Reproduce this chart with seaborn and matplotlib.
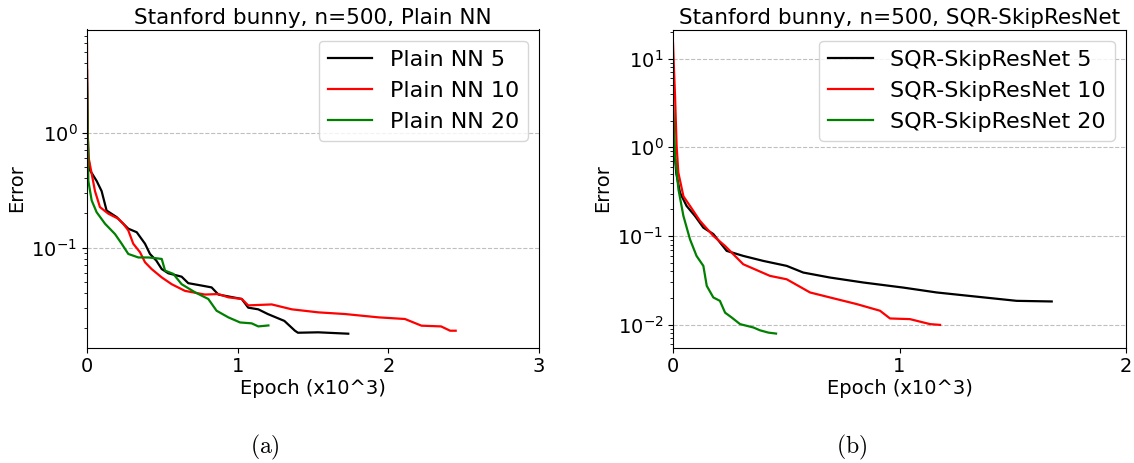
import matplotlib
matplotlib.use("Agg")
import matplotlib.pyplot as plt
import seaborn as sns

# ---- Plain NN runs (epoch in thousands, error) ----
plain5_epoch = [0.0, 0.005, 0.01, 0.02, 0.064, 0.097, 0.13, 0.197, 0.219, 0.274, 0.33, 0.385,
                0.418, 0.46, 0.496, 0.54, 0.628, 0.672, 0.761, 0.827, 0.872, 1.027, 1.07,
                1.137, 1.2, 1.31, 1.38, 1.40, 1.535, 1.734]
plain5_error = [3.5, 1.0, 0.6, 0.47, 0.38, 0.31, 0.21, 0.184, 0.172, 0.146, 0.136, 0.108,
                0.088, 0.077, 0.065, 0.0597, 0.0558, 0.049, 0.0467, 0.045, 0.039, 0.0357, 0.030,
                0.029, 0.0264, 0.023, 0.0189, 0.01815, 0.0183, 0.0178]

plain10_epoch = [0.0, 0.003, 0.009, 0.031, 0.053, 0.086, 0.142, 0.208, 0.241, 0.274, 0.307,
                 0.352, 0.385, 0.429, 0.496, 0.562, 0.65, 0.783, 0.872, 0.938, 1.027, 1.07,
                 1.226, 1.36, 1.535, 1.712, 1.934, 2.11, 2.22, 2.35, 2.41, 2.447]
plain10_error = [6.0, 1.2, 0.62, 0.44, 0.31, 0.225, 0.197, 0.178, 0.161, 0.141, 0.108,
                 0.091, 0.0745, 0.065, 0.055, 0.048, 0.042, 0.039, 0.0394, 0.0369, 0.0357, 0.0314,
                 0.032, 0.029, 0.0273, 0.0264, 0.0247, 0.0239, 0.0209, 0.0206, 0.0189, 0.0189]

plain20_epoch = [0.0, 0.004, 0.009, 0.031, 0.064, 0.12, 0.186, 0.23, 0.274, 0.341, 0.407, 0.45,
                 0.496, 0.518, 0.573, 0.628, 0.717, 0.805, 0.86, 0.938, 1.016, 1.093, 1.137, 1.204]
plain20_error = [2.7, 0.9, 0.38, 0.257, 0.203, 0.161, 0.131, 0.108, 0.088, 0.082, 0.082, 0.081,
                 0.0796, 0.063, 0.059, 0.048, 0.0408, 0.0357, 0.0282, 0.0247, 0.0223, 0.0219,
                 0.0206, 0.0210]

# ---- SQR-SkipResNet runs (epoch in thousands, error) ----
sqr5_epoch = [0.0, 0.005, 0.015, 0.031, 0.06, 0.097, 0.134, 0.178, 0.237, 0.31, 0.399, 0.502,
              0.575, 0.693, 0.84, 1.017, 1.164, 1.311, 1.517, 1.672]
sqr5_error = [3.0, 1.0, 0.5, 0.308, 0.218, 0.168, 0.124, 0.105, 0.0678, 0.0595, 0.0522, 0.0459,
              0.0386, 0.0339, 0.0298, 0.0261, 0.0230, 0.021, 0.0185, 0.0182]

sqr10_epoch = [0.0, 0.004, 0.009, 0.016, 0.0235, 0.046, 0.075, 0.119, 0.178, 0.23, 0.31, 0.428,
               0.502, 0.605, 0.693, 0.811, 0.914, 0.958, 1.046, 1.135, 1.179]
sqr10_error = [15.0, 8.0, 3.8, 1.03, 0.52, 0.28, 0.218, 0.148, 0.10, 0.077, 0.0479, 0.0354,
               0.0324, 0.023, 0.0202, 0.017, 0.0143, 0.0117, 0.0115, 0.0101, 0.0099]

sqr20_epoch = [0.0, 0.009, 0.024, 0.046, 0.075, 0.104, 0.134, 0.149, 0.178, 0.207, 0.23, 0.259,
               0.296, 0.355, 0.384, 0.421, 0.455]
sqr20_error = [2.9, 0.8, 0.336, 0.168, 0.0916, 0.0594, 0.0459, 0.0273, 0.0202, 0.0185, 0.0136,
               0.012, 0.0101, 0.00925, 0.0086, 0.0081, 0.0079]

depths = [5, 10, 20]
colors = ["black", "red", "green"]

panels = [
    {
        "title": "Stanford bunny, n=500, Plain NN",
        "name": "Plain NN",
        "runs": [(plain5_epoch, plain5_error), (plain10_epoch, plain10_error),
                 (plain20_epoch, plain20_error)],
        "xticks": [0, 1, 2, 3],
        "ylim": (0.0135, 7.9),
        "rect": [87 / 1134, 1 - 347.5 / 463, 452 / 1134, 318 / 463],
        "caption": "(a)",
        "cap_x": 265 / 1134,
    },
    {
        "title": "Stanford bunny, n=500, SQR-SkipResNet",
        "name": "SQR-SkipResNet",
        "runs": [(sqr5_epoch, sqr5_error), (sqr10_epoch, sqr10_error),
                 (sqr20_epoch, sqr20_error)],
        "xticks": [0, 1, 2],
        "ylim": (0.0055, 21.4),
        "rect": [673 / 1134, 1 - 347.5 / 463, 453 / 1134, 318 / 463],
        "caption": "(b)",
        "cap_x": 852 / 1134,
    },
]

plt.rcParams["mathtext.fontset"] = "dejavusans"
fig = plt.figure(figsize=(11.34, 4.63), dpi=100)

for p in panels:
    ax = fig.add_axes(p["rect"])
    for (ep, err), d, c in zip(p["runs"], depths, colors):
        sns.lineplot(x=ep, y=err, ax=ax, color=c, linewidth=1.6,
                     label=f"{p['name']} {d}", sort=False, estimator=None)
    ax.set_yscale("log")
    ax.set_xlim(p["xticks"][0], p["xticks"][-1])
    ax.set_ylim(*p["ylim"])
    ax.set_xticks(p["xticks"])
    ax.yaxis.grid(True, which="major", linestyle="--", color="#bfbfbf", linewidth=0.8)
    ax.set_axisbelow(True)
    ax.tick_params(labelsize=14)
    ax.set_title(p["title"], fontsize=15.5, pad=4)
    ax.set_xlabel("Epoch (x10^3)", fontsize=14, labelpad=2)
    ax.set_ylabel("Error", fontsize=14)
    ax.legend(loc="upper right", fontsize=16, handlelength=2.0)
    fig.text(p["cap_x"], 1 - 447 / 463, r"$\mathrm{%s}$" % p["caption"],
             ha="center", va="center", fontsize=17,
             math_fontfamily="cm")

fig.savefig("out.png", dpi=100)
